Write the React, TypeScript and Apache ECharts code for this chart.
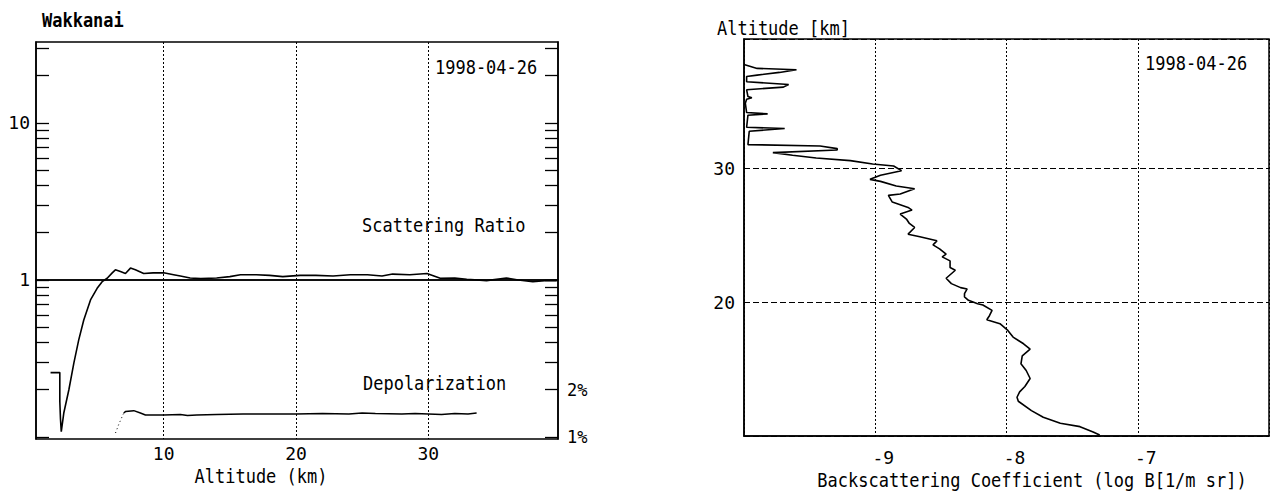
import React, { useEffect, useRef } from "react";
import * as echarts from "echarts";

// ---------- Left panel: Scattering ratio & depolarization vs altitude ----------
const ratioAlt = [1.45, 2.15, 2.15, 2.2, 2.26, 2.45, 2.83, 3.21, 3.58, 3.96, 4.47, 4.97, 5.35, 5.73, 6.11, 6.35, 6.73, 7.11, 7.49, 7.86, 8.49, 9.2, 10.0, 10.75, 11.26, 12.0, 12.8, 14.0, 15.0, 15.8, 17.0, 18.0, 19.0, 20.3, 21.5, 22.8, 24.1, 25.4, 26.5, 27.3, 28.6, 29.9, 30.9, 32.0, 32.9, 34.4, 35.9, 36.8, 37.9, 38.8, 39.7];
const ratioVal = [0.257, 0.257, 0.168, 0.13, 0.108, 0.142, 0.199, 0.295, 0.415, 0.556, 0.746, 0.885, 0.975, 1.025, 1.11, 1.16, 1.13, 1.1, 1.19, 1.16, 1.1, 1.11, 1.11, 1.08, 1.06, 1.03, 1.02, 1.03, 1.05, 1.08, 1.08, 1.07, 1.05, 1.07, 1.07, 1.06, 1.08, 1.08, 1.06, 1.09, 1.08, 1.1, 1.025, 1.03, 1.01, 0.99, 1.03, 1.0, 0.975, 0.99, 0.99];

const depolDotAlt = [6.36, 6.6, 6.98];
const depolDotVal = [1.06, 1.2, 1.42];
const depolAlt = [6.98, 7.11, 7.74, 8.24, 8.62, 10, 11.26, 11.8, 12.5, 14, 16, 18, 20, 22, 24, 25, 26, 28, 29, 30, 31, 32, 33, 33.65];
const depolVal = [1.42, 1.45, 1.47, 1.42, 1.38, 1.38, 1.39, 1.37, 1.38, 1.39, 1.4, 1.4, 1.4, 1.41, 1.4, 1.42, 1.41, 1.4, 1.41, 1.4, 1.39, 1.41, 1.4, 1.42];

const altTickLabels = [10, 20, 30];
const ratioMin = 0.097;
const ratioMax = 32.8;
const ratioTicks = [0.1, 0.2, 0.3, 0.4, 0.5, 0.6, 0.7, 0.8, 0.9, 1, 2, 3, 4, 5, 6, 7, 8, 9, 10, 20, 30];
const ratioLabels = [1, 10];
const depolTicks = [1, 2, 3, 4, 5, 6, 7, 8, 9, 10, 20, 30, 40, 50, 60, 70, 80, 90, 100, 200, 300];
const depolLabels = [1, 2];

// ---------- Right panel: Backscattering coefficient profile ----------
const bsAlt = [37.8, 37.5, 37.4, 37.2, 37.0, 36.9, 36.5, 36.3, 36.1, 35.9, 35.4, 35.3, 35.2, 34.9, 34.2, 34.1, 34.0, 33.1, 33.0, 32.8, 31.8, 31.7, 31.5, 31.4, 31.2, 31.0, 30.8, 30.6, 30.35, 30.2, 29.85, 29.5, 29.2, 29.05, 28.7, 28.5, 28.1, 28.0, 27.5, 27.1, 26.9, 26.6, 26.2, 25.9, 25.6, 25.1, 24.9, 24.6, 24.3, 24.0, 23.6, 23.4, 23.1, 22.6, 22.4, 21.8, 21.4, 21.1, 21.0, 20.65, 20.4, 20.15, 19.9, 19.8, 19.4, 19.0, 18.7, 18.4, 17.9, 17.4, 16.9, 16.5, 16.0, 15.4, 14.9, 14.3, 13.7, 13.3, 12.9, 12.6, 11.9, 11.4, 10.95, 10.7, 10.3, 10.07];
const bsLogB = [-10.0, -9.9, -9.6, -9.73, -9.9, -9.98, -9.98, -9.66, -9.7, -9.98, -9.97, -9.94, -9.98, -9.99, -9.98, -9.82, -9.97, -9.98, -9.69, -9.96, -9.97, -9.42, -9.29, -9.29, -9.78, -9.63, -9.45, -9.19, -9.02, -8.86, -8.8, -8.96, -9.04, -8.96, -8.84, -8.7, -8.81, -8.9, -8.87, -8.75, -8.72, -8.81, -8.76, -8.74, -8.7, -8.75, -8.66, -8.53, -8.56, -8.51, -8.46, -8.49, -8.43, -8.43, -8.39, -8.46, -8.42, -8.35, -8.3, -8.32, -8.32, -8.29, -8.22, -8.18, -8.11, -8.13, -8.15, -8.05, -7.99, -7.95, -7.87, -7.82, -7.88, -7.89, -7.85, -7.82, -7.86, -7.9, -7.92, -7.91, -7.81, -7.72, -7.59, -7.44, -7.34, -7.29];

const FONT = "DejaVu Sans Mono";
const lg = (v: number) => Math.log10(v);

export default function App() {
  const ref = useRef<HTMLDivElement>(null);

  useEffect(() => {
    const chart = echarts.init(ref.current!, null, { renderer: "svg" });
    const black = "#000";
    const txt = (x: number, y: number, text: string, extra: any = {}) => ({
      type: "text",
      x,
      y,
      scaleY: 1.15,
      style: {
        text,
        fill: black,
        font: `17px "${FONT}"`,
        textVerticalAlign: "middle",
        verticalAlign: "middle",
        ...extra,
      },
    });

    const option: any = {
      animation: false,
      backgroundColor: "#fff",
      grid: [
        { left: 36, top: 42, width: 522, height: 397, show: true, borderColor: black, borderWidth: 1.5, outerBoundsMode: "none", containLabel: false },
        { left: 744, top: 39, width: 525, height: 397, show: true, borderColor: black, borderWidth: 1.5, outerBoundsMode: "none", containLabel: false },
      ],
      xAxis: [
        {
          type: "value",
          gridIndex: 0,
          min: 0.35,
          max: 39.8,
          axisLine: { show: true, lineStyle: { color: black, width: 1.5 } },
          axisTick: { show: false, customValues: altTickLabels },
          axisLabel: { customValues: altTickLabels, color: black, fontFamily: FONT, fontSize: 18, margin: 5 },
          splitLine: { show: true, lineStyle: { color: black, type: [2, 2], width: 1 } },
        },
        {
          type: "value",
          gridIndex: 1,
          min: -10,
          max: -6,
          interval: 1,
          axisLine: { show: true, lineStyle: { color: black, width: 1.5 } },
          axisTick: { show: false },
          axisLabel: { showMinLabel: false, showMaxLabel: false, color: black, fontFamily: FONT, fontSize: 18, margin: 12, padding: [0, 0, 0, 16] },
          splitLine: { show: true, lineStyle: { color: black, type: [2, 2], width: 1 } },
        },
      ],
      yAxis: [
        {
          type: "value",
          gridIndex: 0,
          min: lg(ratioMin),
          max: lg(ratioMax),
          axisLine: { show: true, lineStyle: { color: black, width: 1.5 } },
          axisTick: { show: true, inside: true, length: 13, customValues: ratioTicks.map(lg), lineStyle: { color: black, width: 1.3 } },
          axisLabel: {
            customValues: ratioLabels.map(lg),
            formatter: (v: number) => String(Math.round(Math.pow(10, v))),
            color: black,
            fontFamily: FONT,
            fontSize: 18,
            margin: 6,
          },
          splitLine: { show: false },
        },
        {
          type: "value",
          gridIndex: 0,
          position: "right",
          min: lg(ratioMin * 10),
          max: lg(ratioMax * 10),
          axisLine: { show: true, lineStyle: { color: black, width: 1.5 } },
          axisTick: { show: true, inside: true, length: 13, customValues: depolTicks.map(lg), lineStyle: { color: black, width: 1.3 } },
          axisLabel: {
            customValues: depolLabels.map(lg),
            formatter: (v: number) => Math.round(Math.pow(10, v)) + "%",
            color: black,
            fontFamily: FONT,
            fontSize: 17,
            margin: 9,
          },
          splitLine: { show: false },
        },
        {
          type: "value",
          gridIndex: 1,
          min: 10,
          max: 39.7,
          interval: 10,
          axisLine: { show: true, lineStyle: { color: black, width: 1.5 } },
          axisTick: { show: false },
          axisLabel: { showMinLabel: false, showMaxLabel: false, color: black, fontFamily: FONT, fontSize: 18, margin: 9 },
          splitLine: { show: true, lineStyle: { color: black, type: [6, 3], width: 1 } },
        },
      ],
      series: [
        {
          type: "line",
          xAxisIndex: 0,
          yAxisIndex: 0,
          data: ratioAlt.map((a, i) => [a, lg(ratioVal[i])]),
          showSymbol: false,
          symbol: "none",
          lineStyle: { color: black, width: 1.6 },
          markLine: {
            silent: true,
            symbol: ["none", "none"],
            label: { show: false },
            lineStyle: { color: black, type: "solid", width: 1.5 },
            data: [{ yAxis: 0 }],
          },
        },
        {
          type: "line",
          xAxisIndex: 0,
          yAxisIndex: 1,
          data: depolDotAlt.map((a, i) => [a, lg(depolDotVal[i])]),
          showSymbol: false,
          symbol: "none",
          lineStyle: { color: black, width: 1, type: [1, 3] },
        },
        {
          type: "line",
          xAxisIndex: 0,
          yAxisIndex: 1,
          data: depolAlt.map((a, i) => [a, lg(depolVal[i])]),
          showSymbol: false,
          symbol: "none",
          lineStyle: { color: black, width: 1.5 },
        },
        {
          type: "line",
          xAxisIndex: 1,
          yAxisIndex: 2,
          data: bsAlt.map((a, i) => [bsLogB[i], a]),
          showSymbol: false,
          symbol: "none",
          lineStyle: { color: black, width: 1.6 },
        },
      ],
      graphic: [
        txt(42, 20, "Wakkanai", { font: `bold 17px "${FONT}"` }),
        txt(435, 67, "1998-04-26"),
        txt(362, 225, "Scattering Ratio"),
        txt(363, 383, "Depolarization"),
        txt(261, 476, "Altitude (km)", { textAlign: "center", align: "center" }),
        txt(717, 28, "Altitude [km]"),
        txt(1145, 63, "1998-04-26"),
        txt(1032, 480, "Backscattering Coefficient (log B[1/m sr])", { textAlign: "center", align: "center" }),
      ],
    };

    chart.setOption(option);
    return () => chart.dispose();
  }, []);

  return (
    <div
      ref={ref}
      style={{ position: "fixed", left: 0, top: 0, width: 1282, height: 493, background: "#fff" }}
    />
  );
}
